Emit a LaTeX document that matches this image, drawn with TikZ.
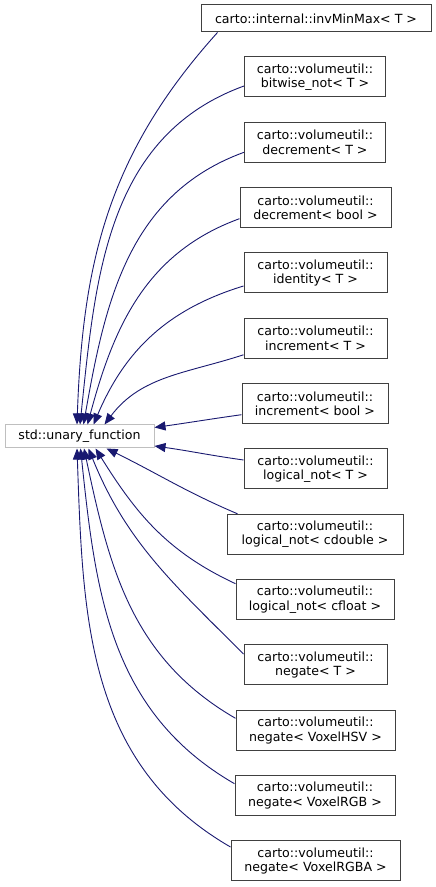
\documentclass[tikz,border=0pt]{standalone}
\usepackage{fontspec}
\setmainfont{DejaVu Sans}
\usepackage{tikz}
\usetikzlibrary{arrows.meta, positioning}
\definecolor{Miazul}{RGB}{25,25,112}
\definecolor{Migris}{RGB}{191,191,191}

\begin{document}
\begin{tikzpicture}[
  x=1pt, y=1pt,
  cls/.style={
    rectangle, draw=black!75, fill=white,
    line width=1pt,
    font=\fontsize{12.6}{14.5}\selectfont,
    align=center, inner sep=0pt, minimum height=40pt
  },
  basecls/.style={
    cls, draw=Migris, minimum height=23pt
  },
  rel/.style={
    -{Triangle[length=11pt, width=9pt]},
    line width=0.9pt, color=Miazul
  }
]

\useasboundingbox (0,0) rectangle (436,887);

%% ── Clase base ───────────────────────────────────────────────────────────
\node[basecls, minimum width=149pt] (ufun) at (79.5, 450.5)
  {std::unary\_function};

%% ── Clases derivadas (columna derecha, paso 65.33) ───────────────────────
\node[cls, minimum width=230pt, minimum height=27pt] (invmm) at (316, 868.5)
  {carto::internal::invMinMax< T >};
\node[cls, minimum width=141pt] (bwnot) at (315, 810)
  {carto::volumeutil::\\bitwise\_not< T >};
\node[cls, minimum width=141pt] (decT) at (315, 744.7)
  {carto::volumeutil::\\decrement< T >};
\node[cls, minimum width=151pt] (decB) at (315.5, 679.3)
  {carto::volumeutil::\\decrement< bool >};
\node[cls, minimum width=143pt] (ident) at (315.5, 614)
  {carto::volumeutil::\\identity< T >};
\node[cls, minimum width=143pt] (incT) at (315.5, 548.7)
  {carto::volumeutil::\\increment< T >};
\node[cls, minimum width=146pt] (incB) at (315, 483.3)
  {carto::volumeutil::\\increment< bool >};
\node[cls, minimum width=143pt] (lnotT) at (315.5, 418)
  {carto::volumeutil::\\logical\_not< T >};
\node[cls, minimum width=176pt] (lnotD) at (315, 352.7)
  {carto::volumeutil::\\logical\_not< cdouble >};
\node[cls, minimum width=158pt] (lnotF) at (315, 287.3)
  {carto::volumeutil::\\logical\_not< cfloat >};
\node[cls, minimum width=143pt] (negT) at (315.5, 222)
  {carto::volumeutil::\\negate< T >};
\node[cls, minimum width=159pt] (negHSV) at (315.5, 156.7)
  {carto::volumeutil::\\negate< VoxelHSV >};
\node[cls, minimum width=160pt] (negRGB) at (315, 91.3)
  {carto::volumeutil::\\negate< VoxelRGB >};
\node[cls, minimum width=169pt] (negRGBA) at (315.5, 26)
  {carto::volumeutil::\\negate< VoxelRGBA >};

%% ── Herencia (derivada → base) ───────────────────────────────────────────
%% arriba: entran por ufun.north
\draw[rel] ([xshift=17pt]invmm.south west) to[out=228, in=88] ([xshift=-2.5pt]ufun.north);
\draw[rel] ([yshift=-9pt]bwnot.west)  to[out=200, in=84] ([xshift=0.5pt]ufun.north);
\draw[rel] ([yshift=-10pt]decT.west)  to[out=200, in=80] ([xshift=4pt]ufun.north);
\draw[rel] ([yshift=-11pt]decB.west)  to[out=200, in=75] ([xshift=8pt]ufun.north);
\draw[rel] ([yshift=-13pt]ident.west) to[out=197, in=67] ([xshift=14pt]ufun.north);
\draw[rel] ([yshift=-16.5pt]incT.west) to[out=198, in=53] ([xshift=25pt]ufun.north);

%% centro: entran por ufun.east
\draw[rel] ([yshift=-11pt]incB.west) to[out=188, in=8]  ([yshift=9pt]ufun.east);
\draw[rel] ([yshift=9pt]lnotT.west)  to[out=172, in=-8] ([yshift=-9.5pt]ufun.east);

%% abajo: entran por ufun.south
\draw[rel] ([xshift=11pt]lnotD.north west) to[out=157, in=-26] ([xshift=27pt]ufun.south);
\draw[rel] ([yshift=16pt]lnotF.west)   to[out=155, in=-58] ([xshift=16pt]ufun.south);
\draw[rel] ([yshift=11pt]negT.west)    to[out=135, in=-68] ([xshift=9pt]ufun.south);
\draw[rel] ([yshift=12pt]negHSV.west)  to[out=150, in=-78] ([xshift=4.5pt]ufun.south);
\draw[rel] ([yshift=12pt]negRGB.west)  to[out=150, in=-84] ([xshift=1pt]ufun.south);
\draw[rel] ([yshift=14pt]negRGBA.west) to[out=150, in=-88] ([xshift=-2.5pt]ufun.south);

\end{tikzpicture}
\end{document}
